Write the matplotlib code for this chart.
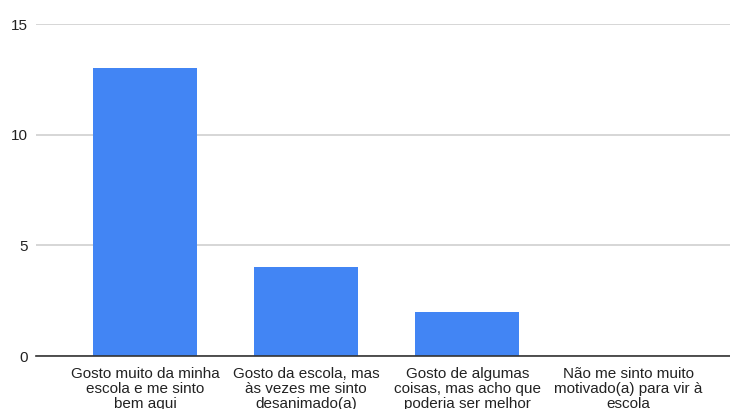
import matplotlib.pyplot as plt

plt.rcParams['font.family'] = ['Liberation Sans', 'DejaVu Sans']

categories = [
    'Gosto muito da minha\nescola e me sinto\nbem aqui',
    'Gosto da escola, mas\nàs vezes me sinto\ndesanimado(a)',
    'Gosto de algumas\ncoisas, mas acho que\npoderia ser melhor',
    'Não me sinto muito\nmotivado(a) para vir à\nescola',
]
counts = [13, 4, 2, 0]
yticks = [0, 5, 10, 15]

fig = plt.figure(figsize=(7.30, 4.09), dpi=100)
ax = fig.add_axes([36 / 730, 1 - 356 / 409, 1 - 36 / 730, (356 - 24) / 409])

pos = list(range(len(categories)))
ax.bar(pos, counts, width=0.646, color='#4285f4', zorder=3)

ax.set_xlim(-0.677, 3.63)
ax.set_ylim(0, 15)
ax.set_yticks(yticks)
ax.set_yticklabels([str(t) for t in yticks], fontsize=11, color='#222222')
ax.set_xticks(pos)
ax.set_xticklabels(categories, fontsize=11, color='#222222', linespacing=1.1)
ax.tick_params(axis='both', length=0)
ax.tick_params(axis='x', pad=8)
ax.tick_params(axis='y', pad=6)

ax.grid(axis='y', color='#d0d0d0', linewidth=1.2, zorder=0)
for s in ['top', 'right', 'left']:
    ax.spines[s].set_visible(False)
ax.spines['bottom'].set_color('#333333')
ax.spines['bottom'].set_linewidth(1.2)
ax.spines['bottom'].set_zorder(4)

fig.savefig('out.png', dpi=100)
